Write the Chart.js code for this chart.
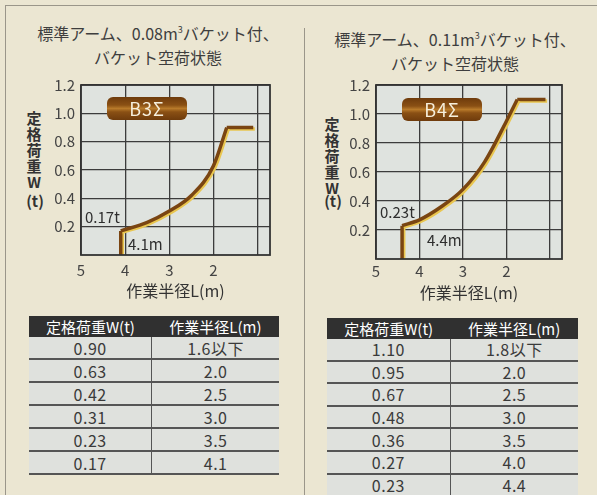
<!DOCTYPE html>
<html lang="ja">
<head>
<meta charset="utf-8">
<script src="https://cdn.jsdelivr.net/npm/chart.js@4/dist/chart.umd.min.js"></script>
<style>
  body { margin: 0; background: #ebe6d2; font-family: "Noto Sans CJK JP", sans-serif; color: #3a3a3a; }
  #page { position: relative; width: 597px; height: 495px; overflow: hidden; }
  .frame { position: absolute; background: #9a968a; }
  .title { position: absolute; width: 300px; text-align: center; font-size: 16px; line-height: 24px; color: #3e3e3e; }
  .title sup { font-size: 9px; vertical-align: 7px; line-height: 0; }
  .ytitle { position: absolute; width: 20px; text-align: center; font-size: 15px; line-height: 16px; font-weight: bold; color: #333; }
  .box { position: absolute; }
  .badge { position: absolute; width: 80px; height: 23px; border-radius: 6px; color: #f6efdc; font-size: 18px; line-height: 23px; text-align: center;
           background: linear-gradient(#6e3b0c 0%, #8a5014 35%, #b87a2a 50%, #8a5014 65%, #6e3b0c 100%); letter-spacing: 1px; }
  .note { position: absolute; font-size: 15px; color: #2e2e2e; }
  table { position: absolute; border-collapse: collapse; font-size: 16px; color: #3a3a3a; line-height: 1; }
  th { background: #303030; color: #fff; font-weight: normal; font-size: 15px; height: 21px; padding: 0; }
  td { background: #dfe1dd; text-align: center; padding: 0; border-bottom: 2px solid #555; letter-spacing: 0.5px; }
  td:first-child { border-right: 1.5px solid #555; }
</style>
</head>
<body>
<div id="page">
  <div class="frame" style="left:5px;top:5px;width:1px;height:490px"></div>
  <div class="frame" style="left:5px;top:5px;width:592px;height:1px"></div>
  <div class="frame" style="left:304px;top:28px;width:1px;height:467px"></div>

  <div class="title" style="left:8px;top:21px">標準アーム、0.08m<sup>3</sup>バケット付、<br>バケット空荷状態</div>
  <div class="title" style="left:305px;top:27px">標準アーム、0.11m<sup>3</sup>バケット付、<br>バケット空荷状態</div>

  <div class="ytitle" style="left:24px;top:110px">定<br>格<br>荷<br>重<br>W</div>
  <div class="ytitle" style="left:20px;top:193px;width:30px">(t)</div>
  <div class="ytitle" style="left:322px;top:116px">定<br>格<br>荷<br>重<br>W</div>
  <div class="ytitle" style="left:318px;top:193px;width:30px">(t)</div>

  <div class="box" style="left:0;top:70px;width:300px;height:235px"><canvas id="leftChart"></canvas></div>
  <div class="box" style="left:300px;top:70px;width:297px;height:235px"><canvas id="rightChart"></canvas></div>

  <div class="badge" style="left:107px;top:97px">B3Σ</div>
  <div class="badge" style="left:402px;top:98px">B4Σ</div>

  <div class="note" style="left:85px;top:206px">0.17t</div>
  <div class="note" style="left:128px;top:233px">4.1m</div>
  <div class="note" style="left:380px;top:201px">0.23t</div>
  <div class="note" style="left:427px;top:229px">4.4m</div>

  <table id="leftTable" style="left:29px;top:316px;width:250px"></table>
  <table id="rightTable" style="left:327px;top:318px;width:251px"></table>
</div>

<script>
// 軸の目盛
const xTicks = [5, 4, 3, 2, 1];
const xTickLabels = ['5', '4', '3', '2', ''];
const yTicks = [0.2, 0.4, 0.6, 0.8, 1.0, 1.2];

// B3Σ 曲線
const leftCurveL = [4.1, 3.5, 3.0, 2.5, 2.0, 1.7];
const leftCurveW = [0.17, 0.23, 0.31, 0.42, 0.63, 0.90];
const leftFlatEndL = 1.1;

// B4Σ 曲線
const rightCurveL = [4.4, 4.0, 3.5, 3.0, 2.5, 2.0, 1.75];
const rightCurveW = [0.23, 0.27, 0.36, 0.48, 0.67, 0.95, 1.10];
const rightFlatEndL = 1.1;

// 表
const tableHeader = ['定格荷重W(t)', '作業半径L(m)'];
const leftTableW = ['0.90', '0.63', '0.42', '0.31', '0.23', '0.17'];
const leftTableL = ['1.6以下', '2.0', '2.5', '3.0', '3.5', '4.1'];
const rightTableW = ['1.10', '0.95', '0.67', '0.48', '0.36', '0.27', '0.23'];
const rightTableL = ['1.8以下', '2.0', '2.5', '3.0', '3.5', '4.0', '4.4'];

function fillTable(id, ws, ls, rowH) {
    let html = '<tr><th>' + tableHeader[0] + '</th><th>' + tableHeader[1] + '</th></tr>';
    for (let i = 0; i < ws.length; i++) {
        html += '<tr><td style="height:' + rowH + 'px">' + ws[i] + '</td><td style="height:' + rowH + 'px">' + ls[i] + '</td></tr>';
    }
    document.getElementById(id).innerHTML = html;
}
fillTable('leftTable', leftTableW, leftTableL, 21);
fillTable('rightTable', rightTableW, rightTableL, 20.6);

// 背景と枠
const plotArea = {
    id: 'plotArea',
    beforeDraw(chart) {
        const { ctx, chartArea: a } = chart;
        ctx.save();
        ctx.fillStyle = '#dfe3df';
        ctx.fillRect(a.left, a.top, a.right - a.left, a.bottom - a.top);
        ctx.restore();
    },
    afterDraw(chart) {
        const { ctx, chartArea: a } = chart;
        ctx.save();
        ctx.strokeStyle = '#333';
        ctx.lineWidth = 1.8;
        ctx.strokeRect(a.left, a.top, a.right - a.left, a.bottom - a.top);
        ctx.restore();
    },
    // 線の黄色いハイライト
    beforeDatasetDraw(chart) {
        const ctx = chart.ctx;
        ctx.save();
        ctx.shadowColor = '#e9c650';
        ctx.shadowOffsetX = 1.6;
        ctx.shadowOffsetY = 1.4;
        ctx.shadowBlur = 0;
    },
    afterDatasetDraw(chart) {
        chart.ctx.restore();
    }
};

function makeChart(id, curveL, curveW, flatEnd, opt) {
    const curve = curveL.map((l, i) => ({ x: l, y: curveW[i] }));
    const last = curve.length - 1;
    const straight = [
        { x: curveL[0], y: 0 }, { x: curveL[0], y: curveW[0] },
        { x: 3, y: null },
        { x: curveL[last], y: curveW[last] }, { x: flatEnd, y: curveW[last] }
    ];
    const lineStyle = { borderColor: '#7a4512', borderWidth: 3.5, pointRadius: 0, fill: false, borderJoinStyle: 'miter' };

    return new Chart(document.getElementById(id), {
        type: 'line',
        data: {
            datasets: [
                Object.assign({ data: curve, cubicInterpolationMode: 'monotone' }, lineStyle),
                Object.assign({ data: straight, tension: 0, spanGaps: false }, lineStyle)
            ]
        },
        options: {
            responsive: true,
            maintainAspectRatio: false,
            animation: false,
            events: [],
            layout: { padding: { top: opt.top, right: opt.right, left: 0, bottom: 0 } },
            plugins: { legend: { display: false }, tooltip: { enabled: false } },
            scales: {
                x: {
                    type: 'linear', reverse: true, min: 0.72, max: 5,
                    afterBuildTicks: s => { s.ticks = xTicks.map(v => ({ value: v })); },
                    afterFit: s => { s.height = opt.xh; },
                    grid: { color: '#3c3c3c', lineWidth: 1.3, drawTicks: false },
                    border: { display: false },
                    ticks: {
                        padding: opt.tickPad, color: '#444', font: { size: 15, family: 'Noto Sans CJK JP' },
                        callback: (v, i) => xTickLabels[i]
                    },
                    title: {
                        display: true, text: '作業半径L(m)', color: '#333',
                        font: { size: 16, family: 'Noto Sans CJK JP' }, padding: { top: 0, bottom: opt.titlePad }
                    }
                },
                y: {
                    min: 0, max: 1.2,
                    afterBuildTicks: s => { s.ticks = yTicks.map(v => ({ value: v })); },
                    afterFit: s => { s.width = opt.yw; },
                    grid: { color: '#3c3c3c', lineWidth: 1.3, drawTicks: false },
                    border: { display: false },
                    ticks: {
                        padding: 6, color: '#444', font: { size: 15, family: 'Noto Sans CJK JP' },
                        callback: v => v.toFixed(1)
                    }
                }
            }
        },
        plugins: [plotArea]
    });
}

makeChart('leftChart', leftCurveL, leftCurveW, leftFlatEndL, { top: 12, right: 30, xh: 50, yw: 81, tickPad: 6, titlePad: 4 });
makeChart('rightChart', rightCurveL, rightCurveW, rightFlatEndL, { top: 14, right: 35, xh: 46, yw: 76, tickPad: 3, titlePad: 2 });
</script>
</body>
</html>
